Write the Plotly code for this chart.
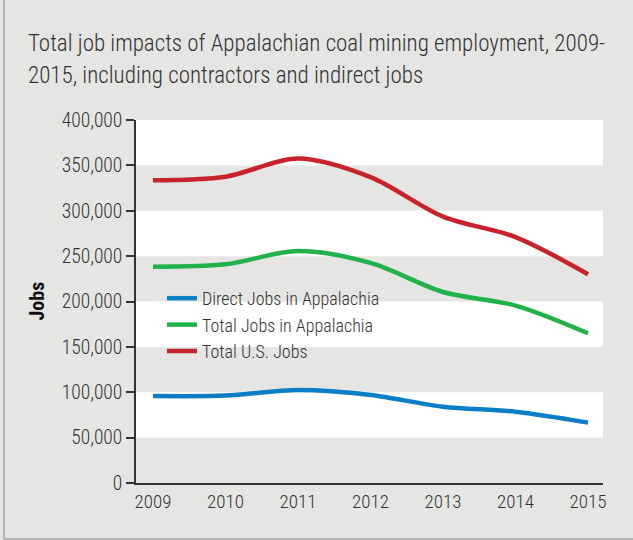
import plotly.graph_objects as go

years = [2009, 2010, 2011, 2012, 2013, 2014, 2015]
direct_appalachia = [95800, 96300, 102500, 97000, 84000, 78500, 66500]
total_appalachia = [238300, 241000, 255600, 242500, 210500, 195500, 165000]
total_us = [333500, 337500, 357500, 337000, 293500, 271000, 230000]
y_ticks = [0, 50000, 100000, 150000, 200000, 250000, 300000, 350000, 400000]
y_tick_labels = ["0", "50,000", "100,000", "150,000", "200,000", "250,000", "300,000", "350,000", "400,000"]
title_line1 = "Total job impacts of Appalachian coal mining employment, 2009-"
title_line2 = "2015, including contractors and indirect jobs"

FONT = "Roboto Condensed, Roboto, sans-serif"
BG = "#e5e6e4"
TXT = "#333333"

fig = go.Figure()
series = [
    ("Direct Jobs in Appalachia", direct_appalachia, "#0a7fc6"),
    ("Total Jobs in Appalachia", total_appalachia, "#22b24c"),
    ("Total U.S. Jobs", total_us, "#c8232c"),
]
for name, vals, col in series:
    fig.add_trace(go.Scatter(
        x=years, y=vals, name=name, mode="lines",
        line=dict(color=col, width=4.5, shape="spline", smoothing=0.9),
    ))

W_plot = 467.0
H_plot = 363.0
def px_x(px):
    return (px - 136) / W_plot
def px_y(py):
    return (483 - py) / H_plot

shapes = []
for lo in [350000, 250000, 150000, 50000]:
    shapes.append(dict(type="rect", xref="paper", yref="y", x0=0, x1=1, y0=lo, y1=lo + 50000,
                       fillcolor="white", line=dict(width=0), layer="below"))
shapes.append(dict(type="line", xref="paper", yref="paper", x0=px_x(4), x1=px_x(4), y0=px_y(539), y1=px_y(-5),
                   line=dict(color="#b4b4b4", width=2)))
shapes.append(dict(type="line", xref="paper", yref="paper", x0=px_x(4), x1=px_x(640), y0=px_y(539), y1=px_y(539),
                   line=dict(color="#b4b4b4", width=2)))

annotations = [
    dict(text=title_line1, xref="paper", yref="paper", x=px_x(27), y=px_y(58), xanchor="left", yanchor="bottom",
         showarrow=False, font=dict(family=FONT, size=23, color=TXT, weight=300), borderpad=0),
    dict(text=title_line2, xref="paper", yref="paper", x=px_x(27), y=px_y(90), xanchor="left", yanchor="bottom",
         showarrow=False, font=dict(family=FONT, size=23, color=TXT, weight=300), borderpad=0),
    dict(text="<b>Jobs</b>", xref="paper", yref="paper", x=px_x(36), y=0.5, xanchor="center", yanchor="middle",
         textangle=-90, showarrow=False, font=dict(family=FONT, size=20, color="#111111")),
]

fig.update_layout(
    width=633, height=540,
    margin=dict(l=136, r=30, t=120, b=57),
    paper_bgcolor=BG, plot_bgcolor=BG,
    font=dict(family=FONT, color=TXT, size=17),
    shapes=shapes,
    annotations=annotations,
    showlegend=True,
    legend=dict(x=px_x(162), y=px_y(280), xanchor="left", yanchor="top",
                bgcolor="rgba(0,0,0,0)", itemwidth=30, tracegroupgap=0,
                font=dict(family=FONT, size=18, color=TXT, weight=300)),
    xaxis=dict(range=[2009 - 17 / 72.5, 2015 + 15 / 72.5], tickvals=years, ticktext=[str(y) for y in years],
               showgrid=False, zeroline=False, showline=True, linecolor=TXT, linewidth=1.5,
               ticks="", tickfont=dict(family=FONT, size=19, color=TXT, weight=300)),
    yaxis=dict(range=[0, 400000], tickvals=y_ticks, ticktext=y_tick_labels,
               showgrid=False, zeroline=False, showline=True, linecolor=TXT, linewidth=1.5,
               ticks="outside", ticklen=8, tickcolor=TXT, tickwidth=1.5,
               tickfont=dict(family=FONT, size=19.5, color=TXT, weight=300)),
)

fig.write_html("out.html")
